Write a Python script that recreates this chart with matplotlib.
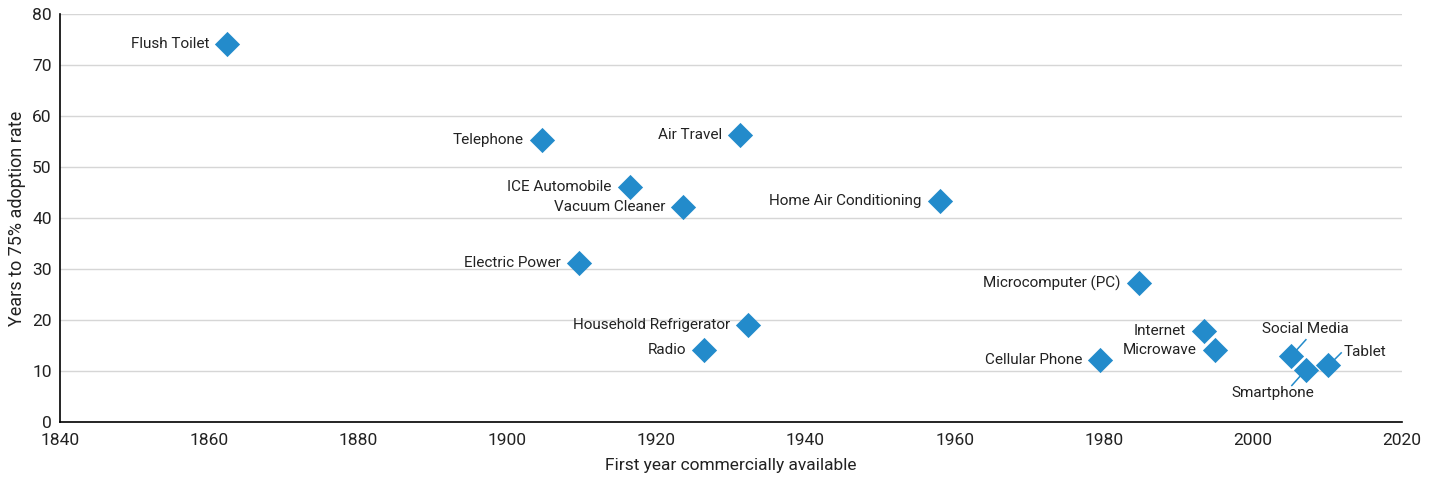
import matplotlib
matplotlib.use("Agg")
import matplotlib.pyplot as plt

# ---- data ----
technologies = ["Flush Toilet", "Telephone", "Air Travel", "ICE Automobile", "Vacuum Cleaner",
                "Home Air Conditioning", "Electric Power", "Microcomputer (PC)",
                "Household Refrigerator", "Radio", "Cellular Phone", "Internet", "Microwave",
                "Social Media", "Smartphone", "Tablet"]
first_year = [1862.4, 1904.6, 1931.2, 1916.4, 1923.6, 1958.0, 1909.6, 1984.7,
              1932.3, 1926.4, 1979.5, 1993.4, 1994.9, 2005.1, 2007.1, 2010.1]
years_to_75 = [74.1, 55.2, 56.3, 46.0, 42.2, 43.3, 31.1, 27.2,
               19.0, 14.1, 12.2, 17.9, 14.2, 13.0, 10.1, 11.2]
x_ticks = [1840, 1860, 1880, 1900, 1920, 1940, 1960, 1980, 2000, 2020]
y_ticks = [0, 10, 20, 30, 40, 50, 60, 70, 80]

# ---- style ----
plt.rcParams['font.family'] = ['Roboto', 'DejaVu Sans']
BLUE = '#238bcb'
TXT = '#222222'

fig = plt.figure(figsize=(14.39, 4.87), dpi=100)
ax = fig.add_axes([60/1439, 1-422/487, (1402-60)/1439, (422-14)/487])
ax.set_xlim(1840, 2020)
ax.set_ylim(0, 80)

ax.scatter(first_year, years_to_75, marker='D', s=165, color=BLUE, zorder=3, linewidths=0)

# label placement (offsets in pixels)
special = {
    "Social Media": dict(text=(14, 27), ha='center', line=((6, 6), (15, 16))),
    "Tablet": dict(text=(15, 13), ha='left', line=((6, 5), (13, 12))),
    "Smartphone": dict(text=(-33, -23), ha='center', line=((-6, -6), (-14, -15))),
}
px = 72/100
for name, x, y in zip(technologies, first_year, years_to_75):
    if name in special:
        s = special[name]
        ax.annotate(name, (x, y), xytext=(s['text'][0]*px, s['text'][1]*px),
                    textcoords='offset points', ha=s['ha'], va='center',
                    fontsize=11, color=TXT, zorder=4)
        (a0, a1), (b0, b1) = s['line']
        d = ax.transData.transform((x, y))
        p0 = ax.transData.inverted().transform((d[0] + a0, d[1] + a1))
        p1 = ax.transData.inverted().transform((d[0] + b0, d[1] + b1))
        ax.plot([p0[0], p1[0]], [p0[1], p1[1]], color=BLUE, lw=1.1, zorder=4)
    else:
        ax.annotate(name, (x, y), xytext=(-18*px, 0), textcoords='offset points',
                    ha='right', va='center', fontsize=11, color=TXT, zorder=4)

ax.set_xticks(x_ticks)
ax.set_yticks(y_ticks)
ax.tick_params(axis='both', length=0, labelsize=12.5, colors=TXT)
ax.tick_params(axis='x', pad=8)
ax.tick_params(axis='y', pad=6)
ax.grid(axis='y', color='#d6d6d6', lw=1)
ax.set_axisbelow(True)
for sp in ['top', 'right']:
    ax.spines[sp].set_visible(False)
for sp in ['left', 'bottom']:
    ax.spines[sp].set_color('black')
    ax.spines[sp].set_linewidth(1.2)

ax.set_xlabel('First year commercially available', fontsize=12.5, color=TXT, labelpad=7)
ax.set_ylabel('Years to 75% adoption rate', fontsize=13, color=TXT, labelpad=4)

fig.savefig('out.png', dpi=100)
